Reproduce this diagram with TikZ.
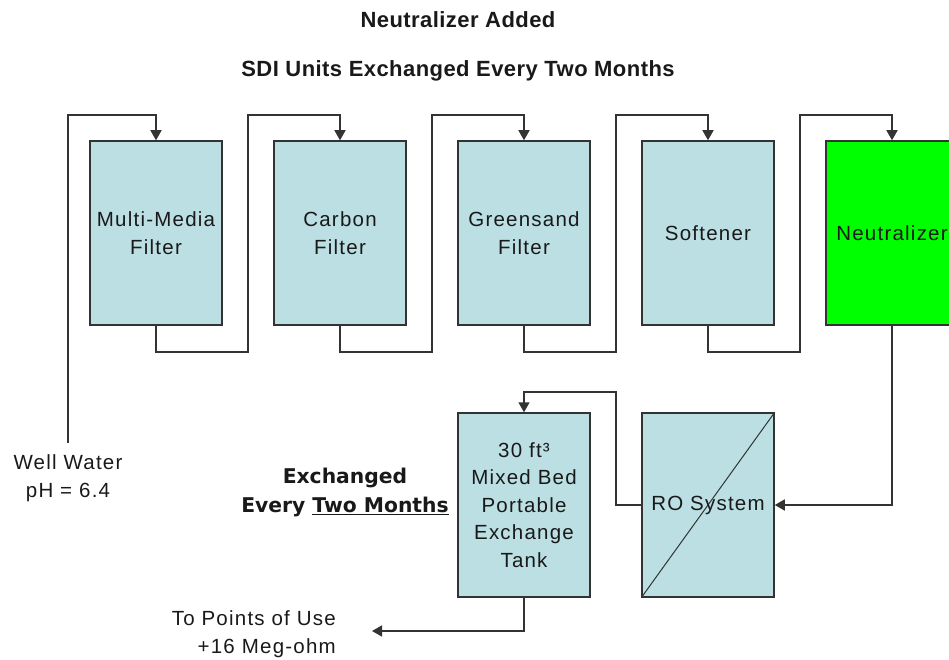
\documentclass[tikz,border=0pt]{standalone}
\usepackage{fontspec}
\setmainfont{Liberation Sans}
\newfontfamily\boxfont[LetterSpace=6]{Liberation Sans}
\newfontfamily\titlefont[LetterSpace=2]{Liberation Sans}
\newfontfamily\labfont{DejaVu Sans}
\usetikzlibrary{arrows.meta}
\definecolor{tank}{RGB}{187,223,227}
\definecolor{neut}{RGB}{0,255,0}
\definecolor{ln}{RGB}{51,51,51}
\definecolor{tx}{RGB}{25,25,25}
\tikzset{
  unit/.style={draw=ln, line width=1.5pt, fill=tank, minimum width=132pt, minimum height=184pt, inner sep=0pt, align=center, text=tx, font=\boxfont\fontsize{20.5}{27.5}\selectfont},
  flow/.style={draw=ln, line width=1.5pt, -{Triangle[length=10pt,width=11pt]}},
  lbl/.style={inner sep=0pt, text=tx, font=\boxfont\fontsize{20.5}{28}\selectfont},
  ttl/.style={inner sep=0pt, text=tx, anchor=base, font=\titlefont\bfseries\fontsize{22}{24}\selectfont}
}
\begin{document}
\begin{tikzpicture}[x=1pt,y=-1pt]
\useasboundingbox (0,0) rectangle (949,660);
\clip (0,0) rectangle (949,660);
\node[ttl] (t1) at (458,28) {Neutralizer Added};
\node[ttl] (t2) at (458,77) {SDI Units Exchanged Every Two Months};
\node[unit] (mm) at (156,233) {Multi-Media\\Filter};
\node[unit] (cf) at (340,233) {Carbon\\Filter};
\node[unit] (gf) at (524,233) {Greensand\\Filter};
\node[unit] (sf) at (708,233) {Softener};
\node[unit, fill=neut] (nz) at (892,233) {Neutralizer};
\node[unit] (mb) at (524,505) {30 ft³\\Mixed Bed\\Portable\\Exchange\\Tank};
\node[unit] (ro) at (708,505) {};
\draw[line width=1pt, draw=ln] (ro.south west) -- (ro.north east);
\node[inner sep=0pt, text=tx, font=\boxfont\fontsize{20.5}{27.5}\selectfont] (rot) at (ro.center) {RO System};
\coordinate (ww) at (68,443);
\coordinate (pou) at (372,631);
\node[lbl, align=center] (wwl) at (68,478) {Well Water\\pH = 6.4};
\node[lbl, align=right, anchor=east] (poul) at (336,634) {To Points of Use\\+16 Meg-ohm};
\node[inner sep=0pt, text=tx, align=center, font=\labfont\bfseries\fontsize{20.3}{29}\selectfont] (exl) at (345,492) {Exchanged\\Every \underline{Two Months}};
\draw[flow] (ww) -- (68,115) -| (mm.north);
\draw[flow] (mm.south) -- ++(0,26) -| (248,115) -| (cf.north);
\draw[flow] (cf.south) -- ++(0,26) -| (432,115) -| (gf.north);
\draw[flow] (gf.south) -- ++(0,26) -| (616,115) -| (sf.north);
\draw[flow] (sf.south) -- ++(0,26) -| (800,115) -| (nz.north);
\draw[flow] (nz.south) |- (ro.east);
\draw[flow] (ro.west) -| (616,392) -| (mb.north);
\draw[flow] (mb.south) |- (pou);
\end{tikzpicture}
\end{document}
